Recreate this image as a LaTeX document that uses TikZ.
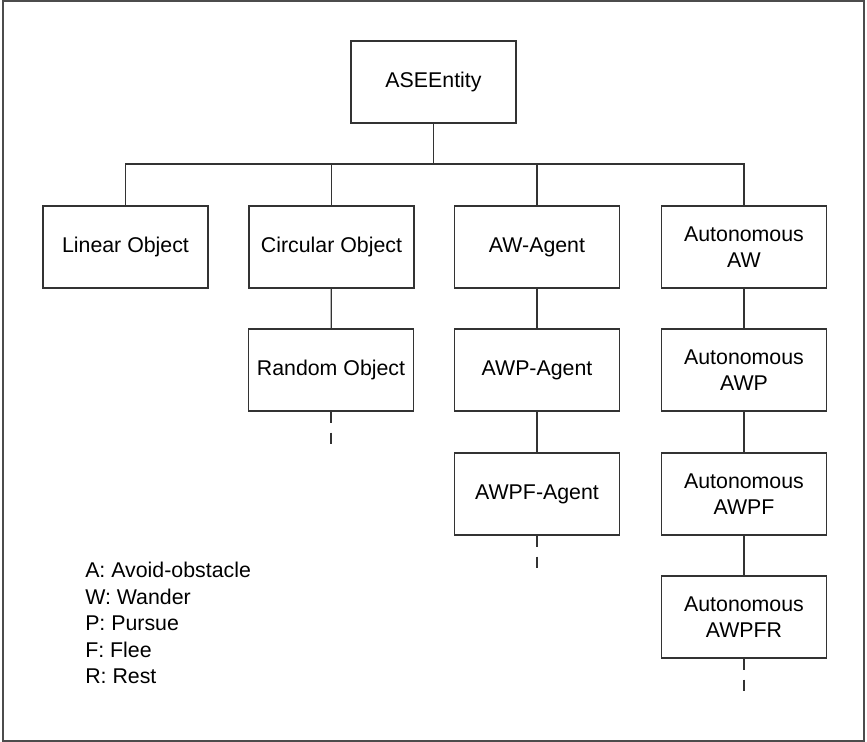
\documentclass[tikz,border=0pt]{standalone}
\usepackage{fontspec}
\setmainfont{Liberation Sans}

\begin{document}
\begin{tikzpicture}[x=0.75pt,y=-0.75pt,
    cls/.style={draw=black!80,line width=0.9pt,minimum width=123.75pt,
      minimum height=61.5pt,inner sep=0pt,align=center,
      font=\fontsize{16}{20}\selectfont},
    link/.style={draw=black!80,line width=0.9pt},
    stub/.style={link,dash pattern=on 8.25pt off 7.5pt}]

	\useasboundingbox (0,0) rectangle (867,742);
	\draw[black!70,line width=1.5pt] (2.5,1) rectangle (864,741);

	% root
	\node[cls] (ase) at (433.5,82) {ASEEntity};
	\coordinate (bus) at (0,164);

	% first level
	\node[cls] (lin) at (125.5,247) {Linear Object};
	\node[cls] (circ) at (331.5,247) {Circular Object};
	\node[cls] (aw) at (537,247) {AW-Agent};
	\node[cls] (aaw) at (744,247) {Autonomous\\AW};

	% lower levels
	\node[cls] (rnd) at (331,370) {Random Object};
	\node[cls] (awp) at (537,370) {AWP-Agent};
	\node[cls] (aawp) at (744,370) {Autonomous\\AWP};
	\node[cls] (awpf) at (537,494) {AWPF-Agent};
	\node[cls] (aawpf) at (744,494) {Autonomous\\AWPF};
	\node[cls] (aawpfr) at (744,617) {Autonomous\\AWPFR};

	\draw[link] (ase.south) -- (ase.south |- bus);
	\draw[link] (lin.north) |- (bus -| aaw.north) -- (aaw.north);
	\draw[link] (circ.north) -- (circ.north |- bus);
	\draw[link] (aw.north) -- (aw.north |- bus);

	\draw[link] (circ) -- (rnd); \draw[link] (aw) -- (awp);
	\draw[link] (awp) -- (awpf); \draw[link] (aaw) -- (aawp);
	\draw[link] (aawp) -- (aawpf); \draw[link] (aawpf) -- (aawpfr);

	\draw[stub] (rnd.south) -- ++(0,32);
	\draw[stub] (awpf.south) -- ++(0,32);
	\draw[stub] (aawpfr.south) -- ++(0,32);

	% legend
	\node[anchor=north west,inner sep=0pt,align=left,
	  font=\fontsize{16}{19.9}\selectfont] (key) at (85,562)
	  {A: Avoid-obstacle\\W: Wander\\P: Pursue\\F: Flee\\R: Rest};
      \end{tikzpicture}
\end{document}
